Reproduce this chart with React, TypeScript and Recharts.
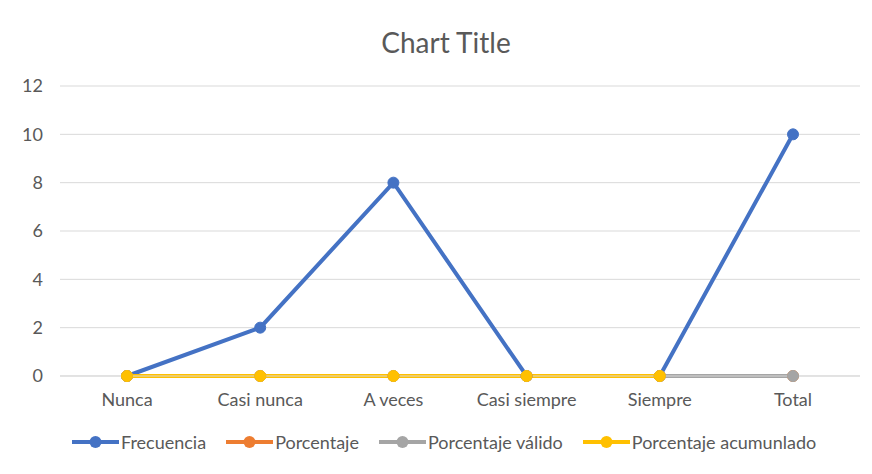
import React from "react";
import { LineChart, Line, XAxis, YAxis, CartesianGrid } from "recharts";

const categories = ["Nunca", "Casi nunca", "A veces", "Casi siempre", "Siempre", "Total"];
const frecuencia = [0, 2, 8, 0, 0, 10];
const porcentaje = [0, 0, 0, 0, 0, 0];
const porcentajeValido = [0, 0, 0, 0, 0, 0];
const porcentajeAcumulado: (number | null)[] = [0, 0, 0, 0, 0, null];
const yTicks = [0, 2, 4, 6, 8, 10, 12];

const data = categories.map((c, i) => ({
  name: c,
  frecuencia: frecuencia[i],
  porcentaje: porcentaje[i],
  valido: porcentajeValido[i],
  acumulado: porcentajeAcumulado[i],
}));

const series = [
  { key: "frecuencia", label: "Frecuencia", color: "#4472C4" },
  { key: "porcentaje", label: "Porcentaje", color: "#ED7D31" },
  { key: "valido", label: "Porcentaje válido", color: "#A5A5A5" },
  { key: "acumulado", label: "Porcentaje acumunlado", color: "#FFC000" },
];

const FONT = "Lato, 'Open Sans', sans-serif";
const TXT = "#595959";

export default function App() {
  return (
    <div style={{ position: "relative", width: 872, height: 474, margin: -8, overflow: "hidden", background: "#fff", fontFamily: FONT }}>
      <div style={{ position: "absolute", top: 22, left: 0, width: 892, textAlign: "center", fontSize: 28, color: TXT, lineHeight: "40px" }}>Chart Title</div>
      <div style={{ position: "absolute", top: 0, left: 0 }}>
        <LineChart width={872} height={474} data={data} margin={{ top: 86, right: 12, left: 30, bottom: 68 }}>
          <CartesianGrid vertical={false} stroke="#d9d9d9" strokeWidth={1} />
          <XAxis
            dataKey="name"
            height={30}
            padding={{ left: 67, right: 67 }}
            axisLine={{ stroke: "#d9d9d9" }}
            tickLine={false}
            tickMargin={11}
            tick={{ fill: TXT, fontSize: 18, fontFamily: FONT }}
            interval={0}
          />
          <YAxis
            width={30}
            domain={[0, 12]}
            ticks={yTicks}
            axisLine={false}
            tickLine={false}
            tickMargin={11}
            tick={{ fill: TXT, fontSize: 18, fontFamily: FONT }}
          />
          {series.map((s) => (
            <Line
              key={s.key}
              type="linear"
              dataKey={s.key}
              stroke={s.color}
              strokeWidth={4}
              dot={{ r: 5.5, fill: s.color, stroke: s.color, strokeWidth: 1 }}
              activeDot={false}
              isAnimationActive={false}
            />
          ))}
        </LineChart>
      </div>
      <div style={{ position: "absolute", top: 430, left: 72, display: "flex", alignItems: "center", gap: 20, fontSize: 18, color: TXT, lineHeight: "24px" }}>
        {series.map((s) => (
          <div key={s.key} style={{ display: "flex", alignItems: "center" }}>
            <svg width={47} height={14} style={{ marginRight: 2 }}>
              <line x1={0} y1={7} x2={47} y2={7} stroke={s.color} strokeWidth={4} />
              <circle cx={23.5} cy={7} r={6} fill={s.color} />
            </svg>
            <span>{s.label}</span>
          </div>
        ))}
      </div>
      <div style={{ position: "absolute", left: 5, top: 5, width: 900, height: 500, border: "1px solid #e0e0e0", boxSizing: "border-box", pointerEvents: "none" }} />
    </div>
  );
}
